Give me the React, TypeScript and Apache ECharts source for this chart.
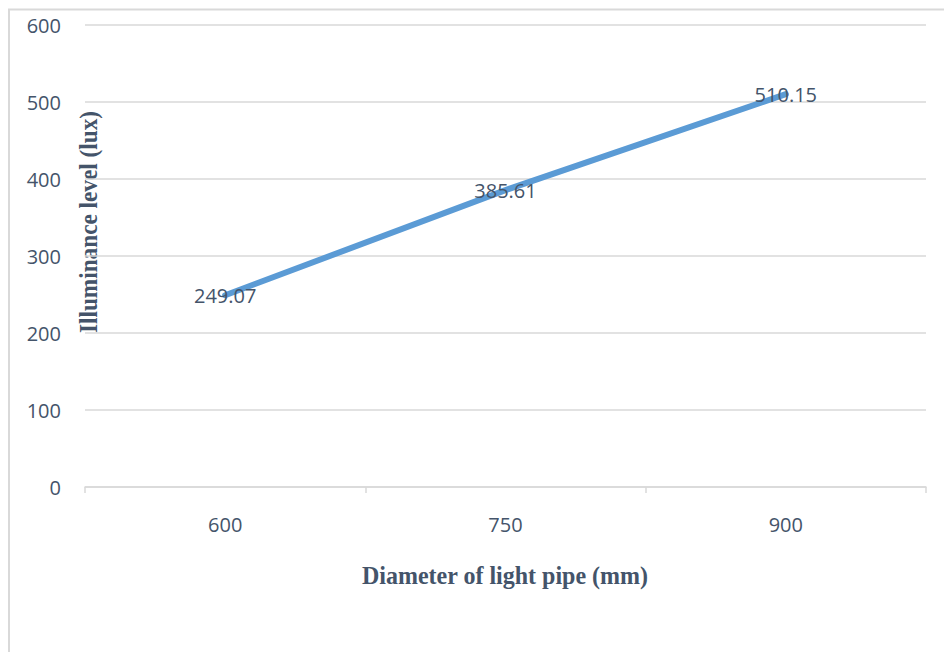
import React, { useEffect, useRef } from "react";
import * as echarts from "echarts";

// Diameter of the light pipe (mm) and the illuminance it delivers (lux)
const diameters = ["600", "750", "900"];
const illuminance = [249.07, 385.61, 510.15];
const yTicks = [0, 100, 200, 300, 400, 500, 600];

const textColor = "#44546a";
const gridColor = "#d9d9d9";

export default function App() {
  const ref = useRef<HTMLDivElement>(null);

  useEffect(() => {
    const chart = echarts.init(ref.current!, null, { renderer: "svg" });
    chart.setOption({
      animation: false,
      backgroundColor: "#ffffff",
      grid: { left: 85, right: 18, top: 25, bottom: 165 },
      xAxis: {
        type: "category",
        data: diameters,
        boundaryGap: true,
        axisLine: { lineStyle: { color: gridColor, width: 1.5 } },
        axisTick: { show: true, length: 6, lineStyle: { color: gridColor, width: 1.5 } },
        axisLabel: {
          color: textColor,
          fontSize: 20,
          fontFamily: "Open Sans",
          margin: 27,
        },
      },
      yAxis: {
        type: "value",
        min: yTicks[0],
        max: yTicks[yTicks.length - 1],
        interval: 100,
        axisLine: { show: false },
        axisTick: { show: false },
        splitLine: { lineStyle: { color: gridColor, width: 1.5 } },
        axisLabel: {
          color: textColor,
          fontSize: 20,
          fontFamily: "Open Sans",
          margin: 24,
        },
      },
      series: [
        {
          type: "line",
          data: illuminance,
          symbol: "circle",
          symbolSize: 1,
          itemStyle: { color: "rgba(0,0,0,0)" },
          lineStyle: { color: "#5b9bd5", width: 6, cap: "round" },
          label: {
            show: true,
            position: "inside",
            color: textColor,
            fontSize: 20,
            fontFamily: "Open Sans",
            formatter: (p: any) => p.value.toFixed(2),
          },
        },
      ],
      graphic: [
        {
          type: "polyline",
          shape: { points: [[9, 652], [9, 9.5], [944, 9.5]] },
          style: { stroke: gridColor, lineWidth: 2, fill: "none" },
          silent: true,
        },
        {
          type: "text",
          x: 88,
          y: 222,
          rotation: Math.PI / 2,
          scaleX: 0.93,
          style: {
            text: "Illuminance level (lux)",
            fontFamily: "Liberation Serif",
            fontWeight: "bold",
            fontSize: 25,
            fill: textColor,
            align: "center",
            verticalAlign: "middle",
          },
        },
        {
          type: "text",
          x: 505,
          y: 575,
          scaleX: 0.96,
          style: {
            text: "Diameter of light pipe (mm)",
            fontFamily: "Liberation Serif",
            fontWeight: "bold",
            fontSize: 25,
            fill: textColor,
            align: "center",
            verticalAlign: "middle",
          },
        },
      ],
    });
    return () => chart.dispose();
  }, []);

  return (
    <div
      ref={ref}
      style={{ position: "fixed", left: 0, top: 0, width: 944, height: 652 }}
    />
  );
}
